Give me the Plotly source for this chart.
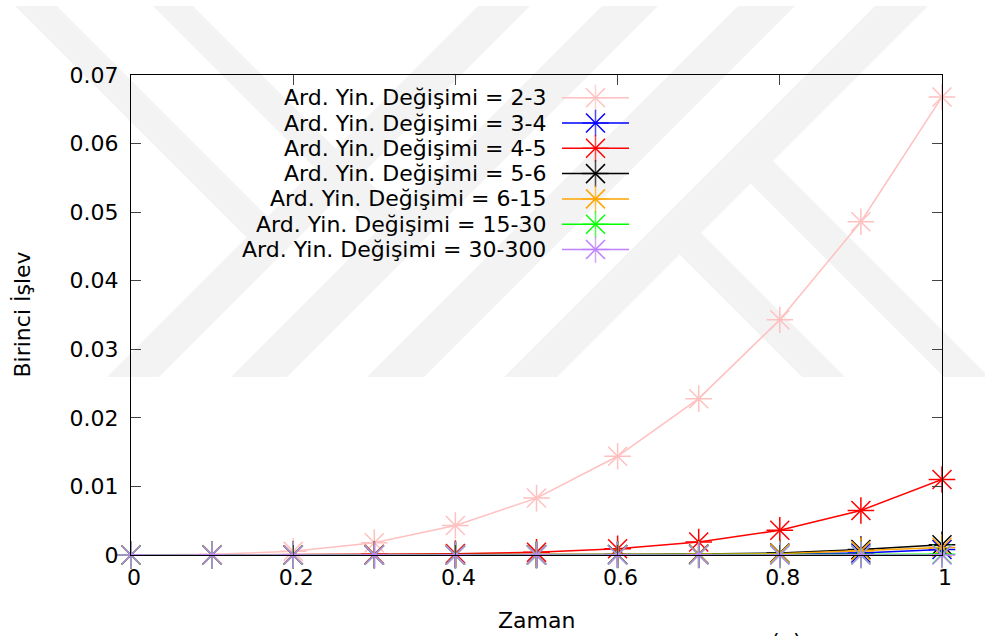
import plotly.graph_objects as go

# ---- data -------------------------------------------------------------
zaman = [0.0, 0.1, 0.2, 0.3, 0.4, 0.5, 0.6, 0.7, 0.8, 0.9, 1.0]

seri_adlari = [
    "Ard. Yin. Değişimi = 2-3",
    "Ard. Yin. Değişimi = 3-4",
    "Ard. Yin. Değişimi = 4-5",
    "Ard. Yin. Değişimi = 5-6",
    "Ard. Yin. Değişimi = 6-15",
    "Ard. Yin. Değişimi = 15-30",
    "Ard. Yin. Değişimi = 30-300",
]
renkler = ["#ffc0c0", "#0000ff", "#ff0000", "#000000", "#ffa500", "#00ff00", "#bf80ff"]

d_2_3 = [0.0, 0.0001, 0.00053, 0.0018, 0.0043, 0.0083, 0.0144, 0.0228, 0.0343, 0.0486, 0.0668]
d_3_4 = [0.0, 0.0, 0.0, 0.0, 0.0, 0.00001, 0.00003, 0.00007, 0.00015, 0.0003, 0.0008]
d_4_5 = [0.0, 0.0, 0.00002, 0.0001, 0.0002, 0.0004, 0.0009, 0.0019, 0.0036, 0.0065, 0.0110]
d_5_6 = [0.0, 0.0, 0.0, 0.0, 0.00001, 0.00003, 0.00008, 0.00015, 0.0003, 0.0008, 0.0015]
d_6_15 = [0.0, 0.0, 0.0, 0.0, 0.00001, 0.00002, 0.00005, 0.0001, 0.0002, 0.0006, 0.0011]
d_15_30 = [0.0, 0.0, 0.0, 0.0, 0.0, 0.0, 0.0, 0.0, 0.00001, 0.00002, 0.0001]
d_30_300 = [0.0, 0.0, 0.0, 0.0, 0.0, 0.0, 0.0, 0.0, 0.0, 0.0, 0.0]
seriler = [d_2_3, d_3_4, d_4_5, d_5_6, d_6_15, d_15_30, d_30_300]

x_tick_vals = [0, 0.2, 0.4, 0.6, 0.8, 1]
x_tick_text = ["0", "0.2", "0.4", "0.6", "0.8", "1"]
y_tick_vals = [0, 0.01, 0.02, 0.03, 0.04, 0.05, 0.06, 0.07]
y_tick_text = ["0", "0.01", "0.02", "0.03", "0.04", "0.05", "0.06", "0.07"]

# ---- geometry / style ---------------------------------------------------
W, H = 985, 636
L, R, T, B = 131, 942, 75, 555
FONT = "DejaVu Sans"
FS = 22
MS = 19          # asterisk marker size
LW = 1.5
EMBLEM = "#f3f3f3"


def px(xp, yp):
    """pixel position -> paper coordinates"""
    return (xp - L) / (R - L), (B - yp) / (B - T)


def poly(points, color=EMBLEM):
    pts = [px(a, b) for a, b in points]
    path = "M " + " L ".join(f"{a:.5f},{b:.5f}" for a, b in pts) + " Z"
    return dict(type="path", xref="paper", yref="paper", path=path,
                fillcolor=color, line=dict(width=0), layer="below")


def asterisk_part(symbol, renk, size):
    return dict(symbol=symbol, size=size, color=renk,
                line=dict(color=renk, width=LW))


fig = go.Figure()

# data series: line + "+" marks, then "x" marks -> gnuplot-style asterisk
for ad, renk, ys in zip(seri_adlari, renkler, seriler):
    fig.add_trace(go.Scatter(
        x=zaman, y=ys, mode="lines+markers", name=ad, showlegend=False,
        line=dict(color=renk, width=LW),
        marker=asterisk_part("cross-thin-open", renk, MS),
        cliponaxis=False))
    fig.add_trace(go.Scatter(
        x=zaman, y=ys, mode="markers", name=ad, showlegend=False,
        marker=asterisk_part("x-thin-open", renk, MS),
        cliponaxis=False))

# key: text on the left, sample line with asterisk on the right
key_y0, key_dy = 97.7, 25.3
key_x_text, key_x0, key_x1 = 548, 562, 629
key_xm = (key_x0 + key_x1) / 2
annotations = []
for i, (ad, renk) in enumerate(zip(seri_adlari, renkler)):
    yy = key_y0 + i * key_dy
    fig.add_trace(go.Scatter(
        x=[key_x0, key_xm, key_x1], y=[yy, yy, yy], mode="lines+markers",
        xaxis="x2", yaxis="y2", showlegend=False, hoverinfo="skip",
        line=dict(color=renk, width=LW),
        marker=asterisk_part("cross-thin-open", renk, [0, MS, 0]),
        cliponaxis=False))
    fig.add_trace(go.Scatter(
        x=[key_xm], y=[yy], mode="markers",
        xaxis="x2", yaxis="y2", showlegend=False, hoverinfo="skip",
        marker=asterisk_part("x-thin-open", renk, MS),
        cliponaxis=False))
    annotations.append(dict(
        x=key_x_text, y=yy, xref="x2", yref="y2", text=ad, showarrow=False,
        xanchor="right", yanchor="middle",
        font=dict(family=FONT, size=FS, color="black")))

# axis titles and caption
zx, zy = px(536.5, 620)
annotations.append(dict(x=zx, y=zy, xref="paper", yref="paper", text="Zaman",
                        showarrow=False, xanchor="center", yanchor="middle",
                        font=dict(family=FONT, size=FS, color="black")))
bx, by = px(21.5, 315)
annotations.append(dict(x=bx, y=by, xref="paper", yref="paper", text="Birinci İşlev",
                        showarrow=False, xanchor="center", yanchor="middle",
                        textangle=-90,
                        font=dict(family=FONT, size=FS, color="black")))
cx, cy = px(786, 627)
annotations.append(dict(x=cx, y=cy, xref="paper", yref="paper", text="(a)",
                        showarrow=False, xanchor="center", yanchor="top",
                        font=dict(family=FONT, size=FS, color="black")))

# faint background emblem made of diagonal bands
TOP, BOT = 6, 377
shapes = []
slash_bands = [(478, 530), (602, 658), (738, 795), (875, 928)]
for a, b in slash_bands:
    d = BOT - TOP
    shapes.append(poly([(a, TOP), (b, TOP), (b - d, BOT), (a - d, BOT)]))


def back_band_to(top_a, top_b, slash):
    k1, k2 = top_a - TOP, top_b - TOP
    s = (slash[0] + slash[1]) / 2 + TOP
    return poly([(top_a, TOP), (top_b, TOP),
                 ((s + k2) / 2, (s - k2) / 2), ((s + k1) / 2, (s - k1) / 2)])


def back_band_from(bot_a, bot_b, slash):
    k1, k2 = bot_a - BOT, bot_b - BOT
    s = (slash[0] + slash[1]) / 2 + TOP
    return poly([((s + k1) / 2, (s - k1) / 2), ((s + k2) / 2, (s - k2) / 2),
                 (bot_b, BOT), (bot_a, BOT)])


shapes.append(back_band_to(15, 57, slash_bands[0]))
shapes.append(back_band_to(153, 193, slash_bands[1]))
shapes.append(back_band_from(802, 845, slash_bands[3]))
shapes.append(back_band_from(944, 989, slash_bands[3]))

axis_common = dict(showgrid=False, zeroline=False, showline=True, mirror="ticks",
                   linecolor="black", linewidth=1, ticks="inside", ticklen=10,
                   tickwidth=1, tickcolor="#444444",
                   tickfont=dict(family=FONT, size=FS, color="black"))

fig.update_layout(
    width=W, height=H,
    margin=dict(l=L, r=W - R, t=T, b=H - B, pad=0),
    paper_bgcolor="white", plot_bgcolor="rgba(0,0,0,0)",
    showlegend=False,
    xaxis=dict(range=[0, 1], tickvals=x_tick_vals, ticktext=x_tick_text,
               ticklabelstandoff=3, ticklabelshift=3, **axis_common),
    yaxis=dict(range=[0, 0.07], tickvals=y_tick_vals, ticktext=y_tick_text,
               ticklabelstandoff=7, **axis_common),
    xaxis2=dict(overlaying="x", anchor="y2", range=[L, R], visible=False),
    yaxis2=dict(overlaying="y", anchor="x2", range=[B, T], visible=False),
    annotations=annotations,
    shapes=shapes,
)

fig.write_html("out.html")
